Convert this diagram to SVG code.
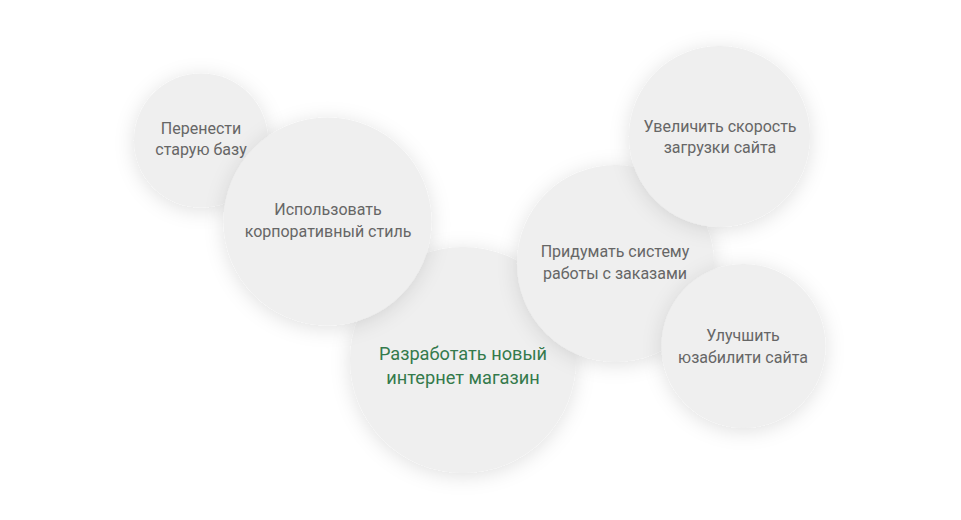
<svg xmlns="http://www.w3.org/2000/svg" width="961" height="520" viewBox="0 0 961 520">
<defs>
<filter id="sh" x="-40%" y="-40%" width="180%" height="180%">
<feDropShadow dx="0" dy="3" stdDeviation="10" flood-color="#000" flood-opacity="0.12"/>
</filter>
</defs>
<style>
.c{fill:#efefef;filter:url(#sh)}
.t{font-family:Roboto,"Liberation Sans",sans-serif;font-size:16px;fill:#666;text-anchor:middle}
.g{font-family:Roboto,"Liberation Sans",sans-serif;font-size:18.2px;fill:#347a4c;text-anchor:middle}
</style>
<rect width="961" height="520" fill="#fff"/>
<g id="connectors"></g>
<g id="n1">
<circle class="c" cx="201" cy="140.5" r="67"/>
<text class="t" x="201" y="134">Перенести</text>
<text class="t" x="201" y="155">старую базу</text>
</g>
<g id="n3">
<circle class="c" cx="463" cy="360" r="113"/>
<text class="g" x="463" y="360">Разработать новый</text>
<text class="g" x="463" y="384">интернет магазин</text>
</g>
<g id="n2">
<circle class="c" cx="327.5" cy="221.5" r="104"/>
<text class="t" x="328" y="215">Использовать</text>
<text class="t" x="328" y="237">корпоративный стиль</text>
</g>
<g id="n4">
<circle class="c" cx="615.5" cy="263.5" r="98.5"/>
<text class="t" x="615" y="257">Придумать систему</text>
<text class="t" x="615" y="279">работы с заказами</text>
</g>
<g id="n5">
<circle class="c" cx="719.5" cy="136.5" r="90.5"/>
<text class="t" x="720" y="132">Увеличить скорость</text>
<text class="t" x="720" y="153">загрузки сайта</text>
</g>
<g id="n6">
<circle class="c" cx="743.5" cy="346" r="82"/>
<text class="t" x="743" y="341">Улучшить</text>
<text class="t" x="743" y="363">юзабилити сайта</text>
</g>
</svg>
